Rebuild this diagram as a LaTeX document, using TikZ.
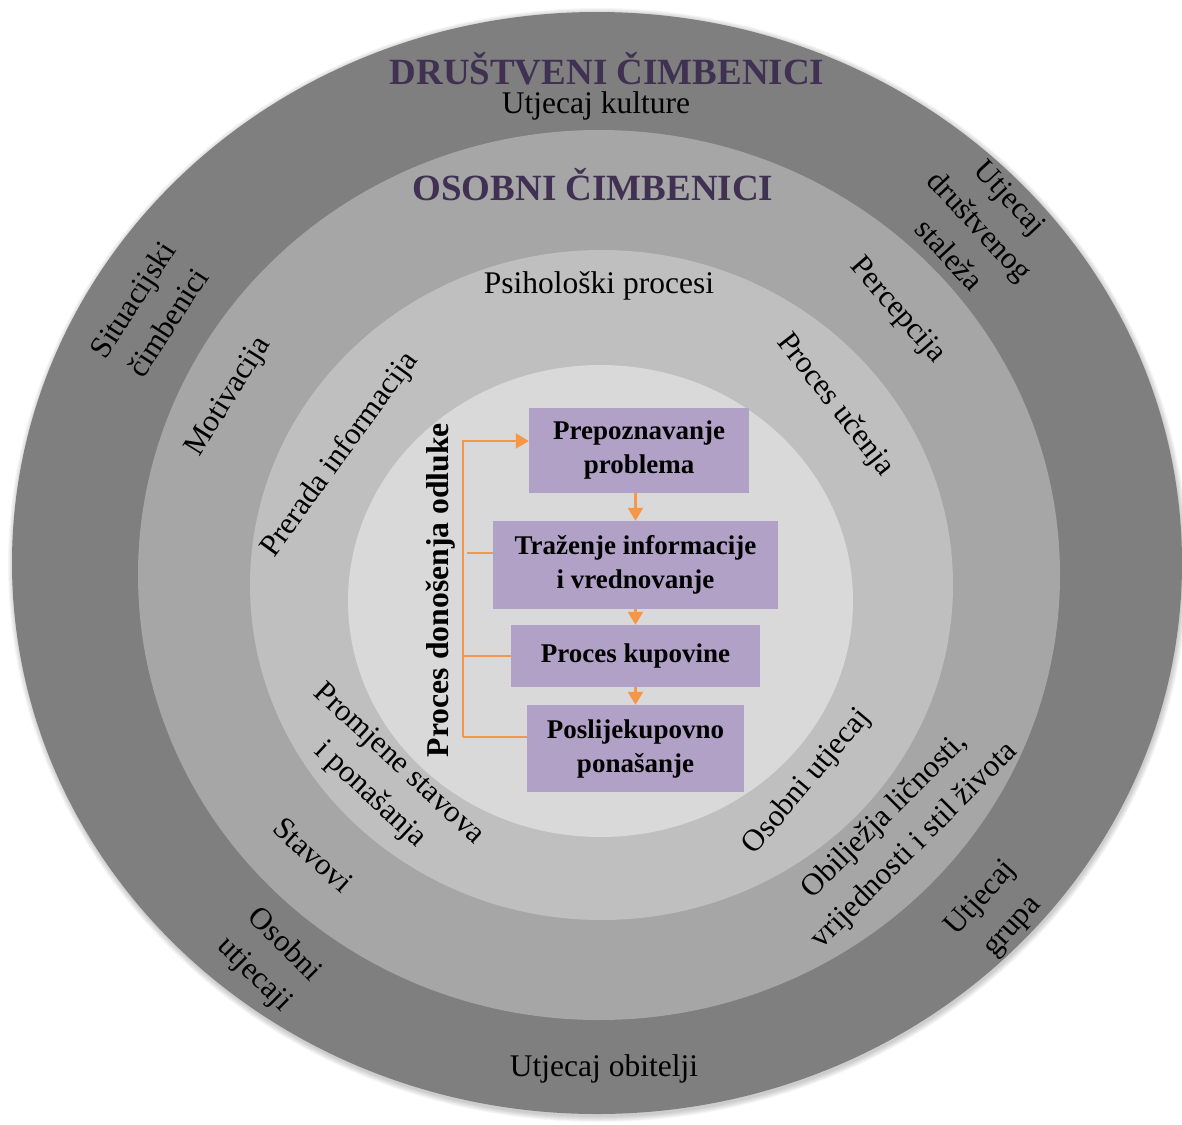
\documentclass[tikz,border=0pt]{standalone}
\usepackage{fontspec}
\setmainfont{Liberation Serif}
\usetikzlibrary{arrows.meta}
\definecolor{ringout}{HTML}{7F7F7F}
\definecolor{ringsoc}{HTML}{A6A6A6}
\definecolor{ringpsy}{HTML}{BFBFBF}
\definecolor{ringin}{HTML}{D9D9D9}
\definecolor{boxpurple}{HTML}{B2A1C7}
\definecolor{titlepurple}{HTML}{403152}
\definecolor{floworange}{HTML}{F79646}
\tikzset{
	lbl/.style={font=\fontsize{31}{42}\selectfont, align=center, inner sep=0pt},
	plain/.style={font=\fontsize{31.5}{40}\selectfont, inner sep=0pt},
	ttl/.style={font=\bfseries\fontsize{37}{44}\selectfont, text=titlepurple, inner sep=0pt},
	stepbox/.style={fill=boxpurple, font=\bfseries\fontsize{27}{34}\selectfont, align=center, inner sep=0pt},
	flow/.style={draw=floworange, line width=2.2pt},
	flowarr/.style={flow, -{Triangle[length=13pt,width=15pt]}}
}

\begin{document}
\begin{tikzpicture}[x=1pt, y=-1pt]
		%%%%% START %%%%%
		\useasboundingbox (0, 0) rectangle (1182, 1124);
		
		% soft shadow round the outer ring
		\foreach \s in {1,...,6}
			\fill[black, opacity=0.035] (598, 565) ellipse [x radius=584pt+\s pt, y radius=551pt+\s pt];
		
		% rings
		\fill[ringout] (597, 563) ellipse [x radius=585pt, y radius=551pt];
		\fill[ringsoc] (599, 575) ellipse [x radius=461pt, y radius=445pt];
		\fill[ringpsy] (601.5, 585) ellipse [x radius=351.5pt, y radius=335pt];
		\fill[ringin] (600.5, 601) ellipse [x radius=252.5pt, y radius=236pt];
		
		% titles and ring labels
		\node[ttl] (drustveni) at (607, 69) {DRUŠTVENI ČIMBENICI};
		\node[plain] (kultura) at (596, 106) {Utjecaj kulture};
		\node[ttl] (osobni) at (593, 185) {OSOBNI ČIMBENICI};
		\node[plain] (psiho) at (599, 286) {Psihološki procesi};
		\node[plain] (obitelj) at (604, 1069) {Utjecaj obitelji};
		
		\node[lbl, rotate=57] (situ) at (150, 311) {Situacijski\\čimbenici};
		\node[lbl, rotate=58] (motiv) at (229, 397) {Motivacija};
		\node[lbl, rotate=54] (prerada) at (340, 455) {Prerada informacija};
		\node[lbl, rotate=-47] (stalez) at (980, 226) {Utjecaj\\društvenog\\staleža};
		\node[lbl, rotate=-49] (percep) at (897, 311) {Percepcija};
		\node[lbl, rotate=-52] (ucenje) at (835, 405) {Proces učenja};
		\node[lbl, rotate=-43] (promjene) at (384, 780) {Promjene stavova\\i ponašanja};
		\node[lbl, rotate=-42] (stavovi) at (313, 855) {Stavovi};
		\node[lbl, rotate=-45] (osutj) at (269, 960) {Osobni\\utjecaji};
		\node[lbl, rotate=50] (osutjecaj) at (807, 782) {Osobni utjecaj};
		\node[lbl, rotate=45] (obiljezja) at (900, 831) {Obilježja ličnosti,\\vrijednosti i stil života};
		\node[lbl, rotate=48] (grupa) at (997, 913) {Utjecaj\\grupa};
		
		% decision process
		\node[font=\bfseries\fontsize{31.7}{36}\selectfont, rotate=90, inner sep=0pt] (odluka) at (441, 590) {Proces donošenja odluke};
		
		\node[stepbox, minimum width=220pt, minimum height=85pt] (prep) at (639, 450.5) {Prepoznavanje\\problema};
		\node[stepbox, minimum width=285pt, minimum height=88pt] (trazenje) at (635.5, 565) {Traženje informacije\\i vrednovanje};
		\node[stepbox, minimum width=249pt, minimum height=62pt] (kupovina) at (635.5, 656) {Proces kupovine};
		\node[stepbox, minimum width=217pt, minimum height=87pt] (poslije) at (635.5, 748.5) {Poslijekupovno\\ponašanje};
		
		\draw[flowarr] (prep.south -| trazenje.north) -- (trazenje.north);
		\draw[flowarr] (trazenje.south) -- (kupovina.north);
		\draw[flowarr] (kupovina.south) -- (poslije.north);
		
		\coordinate (brtop) at (463, 441);
		\coordinate (brbot) at (463, 737);
		\coordinate (tick2) at (467, 553);
		\coordinate (tick3) at (463, 656);
		\draw[flowarr] (brbot) -- (brtop) -- (brtop -| prep.west);
		\draw[flow] (brbot) -- (brbot -| poslije.west);
		\draw[flow] (tick2) -- (tick2 -| trazenje.west);
		\draw[flow] (tick3) -- (kupovina.west);
		%%%%% END %%%%%
\end{tikzpicture}
\end{document}
